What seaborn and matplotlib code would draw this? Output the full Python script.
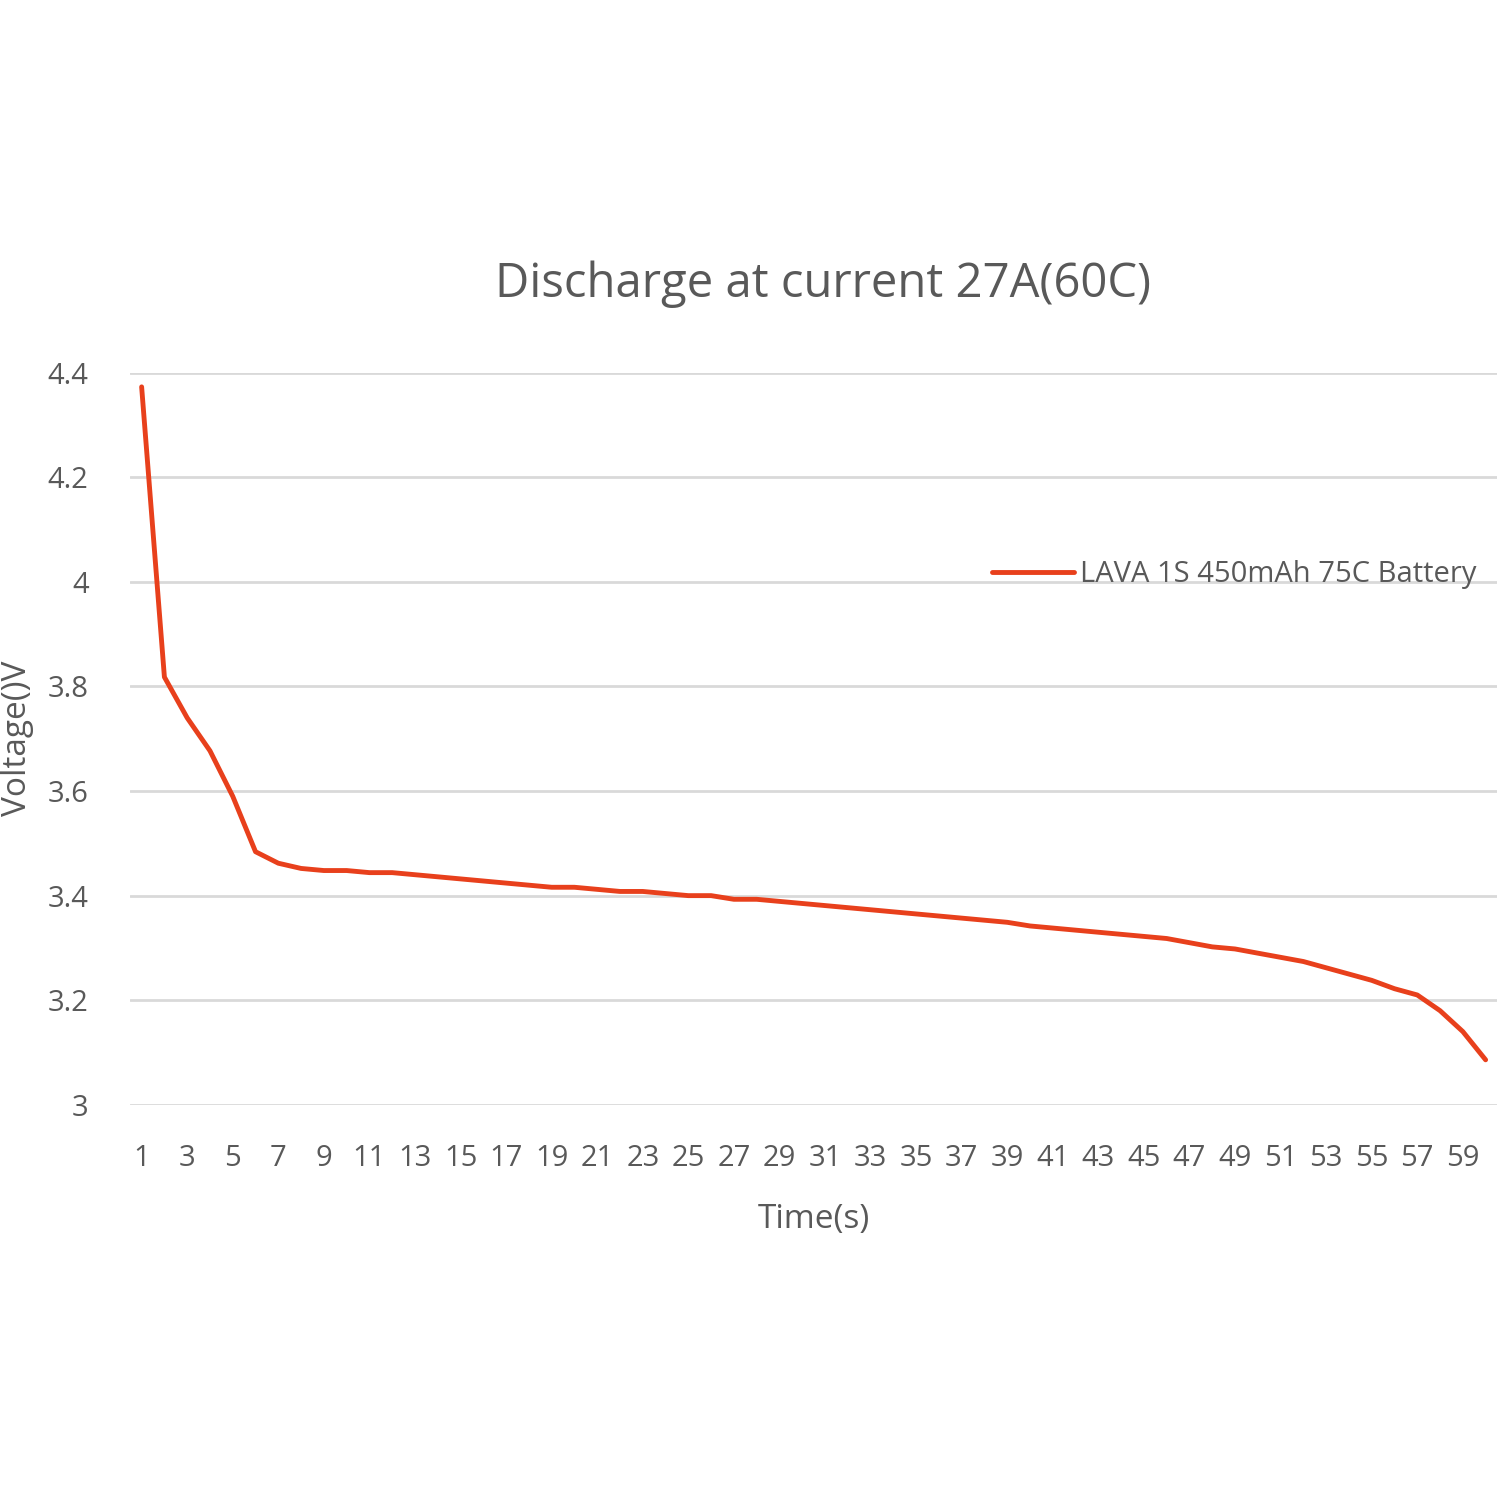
import numpy as np
import matplotlib
matplotlib.use("Agg")
import matplotlib.pyplot as plt
import seaborn as sns

time_s = list(range(1, 61))
voltage = [4.373, 3.818, 3.740, 3.677, 3.590, 3.484, 3.462, 3.452, 3.448, 3.448,
           3.444, 3.444, 3.440, 3.436, 3.432, 3.428, 3.424, 3.420, 3.416, 3.416,
           3.412, 3.408, 3.408, 3.404, 3.400, 3.400, 3.393, 3.393, 3.389, 3.385,
           3.381, 3.377, 3.373, 3.369, 3.365, 3.361, 3.357, 3.353, 3.349, 3.342,
           3.338, 3.334, 3.330, 3.326, 3.322, 3.318, 3.310, 3.302, 3.298, 3.290,
           3.282, 3.274, 3.262, 3.250, 3.238, 3.222, 3.210, 3.180, 3.140, 3.086]
y_ticks = [3, 3.2, 3.4, 3.6, 3.8, 4, 4.2, 4.4]
y_tick_labels = ["3", "3.2", "3.4", "3.6", "3.8", "4", "4.2", "4.4"]

sns.set_style("white")
plt.rcParams['font.family'] = ['Open Sans', 'DejaVu Sans']
grey = "#595959"

fig = plt.figure(figsize=(14.97, 14.97), dpi=100)
ax = fig.add_axes([0.087, 0.262, 0.913, 0.489])
sns.lineplot(x=time_s, y=voltage, ax=ax, color="#E8401C", linewidth=3.5,
             label="LAVA 1S 450mAh 75C Battery")

ax.set_xlim(0.5, 60.5)
ax.set_ylim(3, 4.4)
ax.set_yticks(y_ticks)
ax.set_yticklabels(y_tick_labels)
ax.set_xticks(time_s[::2])
ax.yaxis.grid(True, color="#d9d9d9", linewidth=2)
ax.xaxis.grid(False)
for s in ax.spines.values():
    s.set_visible(False)
ax.tick_params(axis="both", colors=grey, labelsize=21, length=0)
ax.tick_params(axis="x", pad=28)
ax.tick_params(axis="y", pad=30)

ax.set_xlabel("Time(s)", fontsize=24, color=grey, labelpad=22)
ax.set_ylabel("Voltage()V", fontsize=24, color=grey, labelpad=10)
fig.text(0.55, 0.81, "Discharge at current 27A(60C)", fontsize=34,
         color=grey, ha="center", va="center")

leg = ax.legend(loc="center right", bbox_to_anchor=(0.985, 0.724), frameon=False,
                fontsize=21, handlelength=2.8, handletextpad=0.2,
                borderaxespad=0, borderpad=0)
for t in leg.get_texts():
    t.set_color(grey)

fig.savefig("out.png", dpi=100)
